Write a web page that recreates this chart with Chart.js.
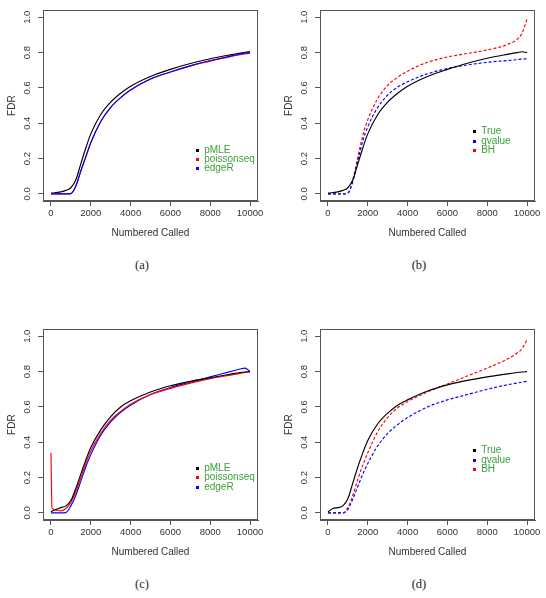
<!DOCTYPE html>
<html><head><meta charset="utf-8">
<script src="https://cdn.jsdelivr.net/npm/chart.js@4"></script>
<style>
body{margin:0;background:#fff;width:546px;height:598px;position:relative;overflow:hidden;font-family:"Liberation Sans",Arial,sans-serif}
canvas{position:absolute}
.cap{position:absolute;font-family:"Liberation Serif","DejaVu Serif",serif;font-size:12.5px;color:#222;transform:translate(-50%,-50%);white-space:nowrap}
.leg{position:absolute;font-size:10px;line-height:10px;color:#3a9e3a;white-space:nowrap}
.sq{position:absolute;width:3px;height:3px}
</style></head><body>
<script>
// ---- data ----
const called = [0,50,250,500,750,1000,1250,1500,1750,2000,2500,3000,3500,4000,5000,6000,7000,8000,9000,9500,9750,10000];
const xTicks = [0,2000,4000,6000,8000,10000];
const yTicks = [0,0.2,0.4,0.6,0.8,1.0];
const captions = ['(a)','(b)','(c)','(d)'];
const namesAC = ['pMLE','poissonseq','edgeR'];
const namesBD = ['True','qvalue','BH'];

const a_pMLE       = [0.005,0.005,0.008,0.012,0.02,0.035,0.08,0.17,0.26,0.34,0.45,0.52,0.57,0.61,0.665,0.705,0.738,0.765,0.787,0.797,0.802,0.805];
const a_poissonseq = [0,0,0,0,0,0.002,0.045,0.13,0.21,0.29,0.41,0.49,0.545,0.588,0.65,0.69,0.725,0.752,0.777,0.788,0.793,0.797];
const a_edgeR      = [0,0,0,0,0,0.002,0.045,0.13,0.21,0.29,0.41,0.49,0.545,0.588,0.65,0.69,0.725,0.755,0.78,0.792,0.798,0.80];

const b_true   = [0.005,0.005,0.008,0.012,0.02,0.035,0.08,0.17,0.26,0.34,0.45,0.52,0.57,0.61,0.665,0.705,0.74,0.768,0.79,0.80,0.805,0.80];
const b_qvalue = [0,0,0,0,0,0.005,0.07,0.19,0.30,0.38,0.49,0.56,0.605,0.635,0.68,0.71,0.73,0.745,0.755,0.76,0.763,0.765];
const b_BH     = [0,0,0,0,0,0.005,0.08,0.21,0.33,0.42,0.54,0.615,0.66,0.695,0.745,0.775,0.795,0.815,0.845,0.875,0.91,0.99];

const c_pMLE       = [0.005,0.01,0.02,0.03,0.04,0.07,0.14,0.22,0.30,0.37,0.47,0.545,0.60,0.635,0.685,0.72,0.745,0.765,0.785,0.795,0.798,0.80];
const c_poissonseq = [0.34,0.03,0.015,0.012,0.025,0.06,0.12,0.20,0.28,0.35,0.45,0.525,0.575,0.615,0.67,0.705,0.735,0.76,0.78,0.79,0.795,0.80];
const c_edgeR      = [0,0,0,0,0.002,0.04,0.10,0.18,0.26,0.33,0.44,0.515,0.57,0.61,0.67,0.71,0.74,0.77,0.80,0.815,0.82,0.80];

const d_true   = [0.005,0.01,0.025,0.03,0.04,0.08,0.17,0.26,0.34,0.41,0.505,0.565,0.61,0.64,0.69,0.725,0.75,0.77,0.787,0.795,0.798,0.80];
const d_qvalue = [0,0,0,0,0,0.02,0.08,0.15,0.22,0.28,0.38,0.45,0.50,0.54,0.60,0.64,0.67,0.70,0.725,0.735,0.74,0.745];
const d_BH     = [0,0,0,0,0,0.03,0.10,0.19,0.27,0.34,0.46,0.54,0.595,0.63,0.685,0.73,0.775,0.82,0.87,0.905,0.93,0.98];

// ---- drawing ----
const FONT = '"Liberation Sans", Arial, sans-serif';
const AX = '#555';
const boxPlugin = {id:'box', afterDraw(ch){const a=ch.chartArea,c=ch.ctx;c.save();c.strokeStyle=AX;c.lineWidth=1;c.strokeRect(Math.round(a.left)+0.5,Math.round(a.top)+0.5,Math.round(a.right-a.left)-1,Math.round(a.bottom-a.top)-1);c.restore();}};

function panel(left, top, width, rightPad, series, caption, capX, capY, legX, legY0, legStep){
  const cv = document.createElement('canvas');
  cv.width = width; cv.height = 245;
  cv.style.left = left+'px'; cv.style.top = top+'px';
  document.body.appendChild(cv);
  new Chart(cv, {
    type:'line',
    data:{datasets: series.map(s=>({
      label:s.name,
      data: called.map((x,i)=>({x:x, y:s.values[i]})),
      borderColor:s.color, borderWidth:1.15, borderDash:s.dash?[3,2]:[],
      pointRadius:0, cubicInterpolationMode:'monotone', fill:false, order:s.order
    }))},
    options:{
      responsive:false, animation:false, devicePixelRatio:1,
      layout:{padding:{left:0, top:7, right:rightPad, bottom:0}},
      plugins:{legend:{display:false}, tooltip:{enabled:false}},
      scales:{
        x:{type:'linear', min:-400, max:10400,
           afterBuildTicks:s=>{s.ticks = xTicks.map(v=>({value:v}));},
           afterFit:s=>{s.height = 44;},
           grid:{drawOnChartArea:false, drawTicks:true, tickLength:5, color:AX},
           border:{display:true, color:AX},
           ticks:{font:{family:FONT, size:9.5}, color:'#333', padding:2, maxRotation:0, minRotation:0, autoSkip:false, callback:v=>String(v)},
           title:{display:true, text:'Numbered Called', font:{family:FONT, size:10}, color:'#333', padding:{top:0, bottom:6}}},
        y:{type:'linear', min:-0.04, max:1.04,
           afterBuildTicks:s=>{s.ticks = yTicks.map(v=>({value:v}));},
           afterFit:s=>{s.width = 43;},
           grid:{drawOnChartArea:false, drawTicks:true, tickLength:5, color:AX},
           border:{display:true, color:AX},
           ticks:{font:{family:FONT, size:9.5}, color:'#333', padding:4.5, minRotation:90, maxRotation:90, crossAlign:'center', autoSkip:false, callback:v=>v.toFixed(1)},
           title:{display:true, text:'FDR', font:{family:FONT, size:10}, color:'#333', padding:{top:6, bottom:0}}}
      }
    },
    plugins:[boxPlugin]
  });
  // caption
  const cp = document.createElement('div');
  cp.className='cap'; cp.textContent = caption;
  cp.style.left = capX+'px'; cp.style.top = capY+'px';
  document.body.appendChild(cp);
  // legend (R-style, no box)
  series.slice().sort((p,q)=>p.legIdx-q.legIdx).forEach((s,i)=>{
    const cy = legY0 + i*legStep;
    const sq = document.createElement('div');
    sq.className='sq'; sq.style.background = s.color;
    sq.style.left = (legX-1.5)+'px'; sq.style.top = (cy-1.5)+'px';
    document.body.appendChild(sq);
    const t = document.createElement('div');
    t.className='leg'; t.textContent = s.name;
    t.style.left = (legX+6.5)+'px'; t.style.top = (cy-5.5)+'px';
    document.body.appendChild(t);
  });
}

panel(0, 0, 273, 15, [
  {name:namesAC[0], values:a_pMLE, color:'#000000', order:2, legIdx:0},
  {name:namesAC[1], values:a_poissonseq, color:'#ff0000', order:1, legIdx:1},
  {name:namesAC[2], values:a_edgeR, color:'#0000ff', order:0, legIdx:2}
], captions[0], 142, 265, 197.7, 150.5, 9);

panel(277, 0, 269, 11, [
  {name:namesBD[0], values:b_true, color:'#000000', order:0, legIdx:0},
  {name:namesBD[1], values:b_qvalue, color:'#0000ff', dash:true, order:1, legIdx:1},
  {name:namesBD[2], values:b_BH, color:'#ff0000', dash:true, order:2, legIdx:2}
], captions[1], 419, 265, 474.7, 131.5, 9.5);

panel(0, 319, 273, 15, [
  {name:namesAC[0], values:c_pMLE, color:'#000000', order:0, legIdx:0},
  {name:namesAC[1], values:c_poissonseq, color:'#ff0000', order:1, legIdx:1},
  {name:namesAC[2], values:c_edgeR, color:'#0000ff', order:2, legIdx:2}
], captions[2], 142, 584, 197.7, 468, 9.7);

panel(277, 319, 269, 11, [
  {name:namesBD[0], values:d_true, color:'#000000', order:0, legIdx:0},
  {name:namesBD[1], values:d_qvalue, color:'#0000ff', dash:true, order:1, legIdx:1},
  {name:namesBD[2], values:d_BH, color:'#ff0000', dash:true, order:2, legIdx:2}
], captions[3], 419, 584, 474.7, 450.5, 9.5);
</script>
</body></html>
